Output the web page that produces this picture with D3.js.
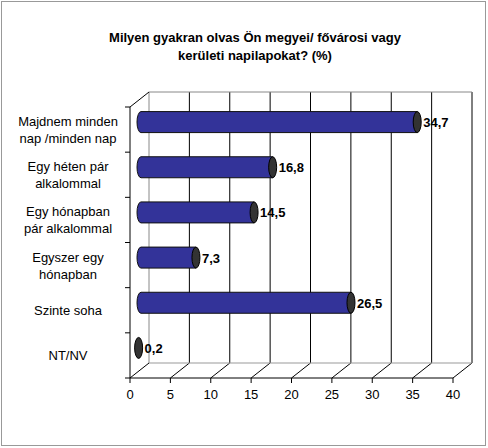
<!DOCTYPE html><html><head><meta charset="utf-8"><script src="https://cdn.jsdelivr.net/npm/d3@7"></script>
<style>body{margin:0;background:#fff}</style></head><body><svg id="c" width="488" height="448"></svg><script>
const categories=[["Majdnem minden","nap /minden nap"],["Egy héten pár","alkalommal"],["Egy hónapban","pár alkalommal"],["Egyszer egy","hónapban"],["Szinte soha"],["NT/NV"]];
const values=[34.7,16.8,14.5,7.3,26.5,0.2];
const labels=["34,7","16,8","14,5","7,3","26,5","0,2"];
const ticks=[0,5,10,15,20,25,30,35,40];
const svg=d3.select("#c");
svg.append("rect").attr("x",1.5).attr("y",1.5).attr("width",484).attr("height",444).attr("fill","#fff").attr("stroke","#999");
svg.append("text").attr("x",255).attr("y",42).attr("text-anchor","middle").attr("font-family","Liberation Sans, Arial").attr("font-weight","bold").attr("font-size",13).text("Milyen gyakran olvas Ön megyei/ fővárosi vagy");
svg.append("text").attr("x",255).attr("y",60).attr("text-anchor","middle").attr("font-family","Liberation Sans, Arial").attr("font-weight","bold").attr("font-size",13).text("kerületi napilapokat? (%)");
const x=d3.scaleLinear().domain([0,40]).range([130,453]);
const dx=19,dy=-15;
const y=d3.scaleBand().domain(d3.range(6)).range([107,378]);
const g=svg.append("g");
ticks.forEach(t=>{
 g.append("line").attr("x1",x(t)+dx).attr("x2",x(t)+dx).attr("y1",y.range()[0]+dy).attr("y2",y.range()[1]+dy).attr("stroke",t==0?"#888":"#000");
 g.append("line").attr("x1",x(t)).attr("x2",x(t)+dx).attr("y1",y.range()[1]).attr("y2",y.range()[1]+dy).attr("stroke","#000");
});
g.append("line").attr("x1",x(0)+dx).attr("x2",x(40)+dx).attr("y1",y.range()[0]+dy).attr("y2",y.range()[0]+dy).attr("stroke","#888");
g.append("line").attr("x1",x(0)+dx).attr("x2",x(40)+dx).attr("y1",y.range()[1]+dy).attr("y2",y.range()[1]+dy).attr("stroke","#999");
g.append("line").attr("x1",x(0)).attr("x2",x(0)+dx).attr("y1",y.range()[0]).attr("y2",y.range()[0]+dy).attr("stroke","#000");
g.append("line").attr("x1",x(0)).attr("x2",x(0)).attr("y1",y.range()[0]).attr("y2",y.range()[1]).attr("stroke","#000");
g.append("line").attr("x1",x(0)).attr("x2",x(40)).attr("y1",y.range()[1]).attr("y2",y.range()[1]).attr("stroke","#000");
ticks.forEach(t=>{
 g.append("line").attr("x1",x(t)).attr("x2",x(t)).attr("y1",y.range()[1]).attr("y2",y.range()[1]+5).attr("stroke","#000");
 g.append("text").attr("x",x(t)).attr("y",y.range()[1]+21).attr("text-anchor","middle").attr("font-family","Liberation Sans, Arial").attr("font-size",13).text(t);
});
for(let i=0;i<=6;i++){const yy=107+i*y.step();g.append("line").attr("x1",x(0)-5).attr("x2",x(0)).attr("y1",yy).attr("y2",yy).attr("stroke","#000");}
const bh=21, ox=7, oy=dy/2;
values.forEach((v,i)=>{
 const cy=y(i)+y.bandwidth()/2+oy, x0=x(0)+ox, x1=x(v)+ox, r=4;
 if(v>0.5) g.append("path").attr("d",`M${x0+r},${cy-bh/2}L${x1},${cy-bh/2}L${x1},${cy+bh/2}L${x0+r},${cy+bh/2}A${r},${bh/2} 0 0 1 ${x0+r},${cy-bh/2}Z`).attr("fill","#333399").attr("stroke","#111").attr("stroke-width",1);
 g.append("ellipse").attr("cx",x1).attr("cy",cy).attr("rx",r).attr("ry",bh/2).attr("fill","#333").attr("stroke","#000");
 g.append("text").attr("x",x1+6).attr("y",cy+5).attr("font-family","Liberation Sans, Arial").attr("font-weight","bold").attr("font-size",13).text(labels[i]);
 const lines=categories[i], ly=y(i)+y.bandwidth()/2;
 lines.forEach((l,j)=>g.append("text").attr("x",68).attr("y",ly+5+(j-(lines.length-1)/2)*17).attr("text-anchor","middle").attr("font-family","Liberation Sans, Arial").attr("font-size",13).text(l));
});
</script></body></html>
